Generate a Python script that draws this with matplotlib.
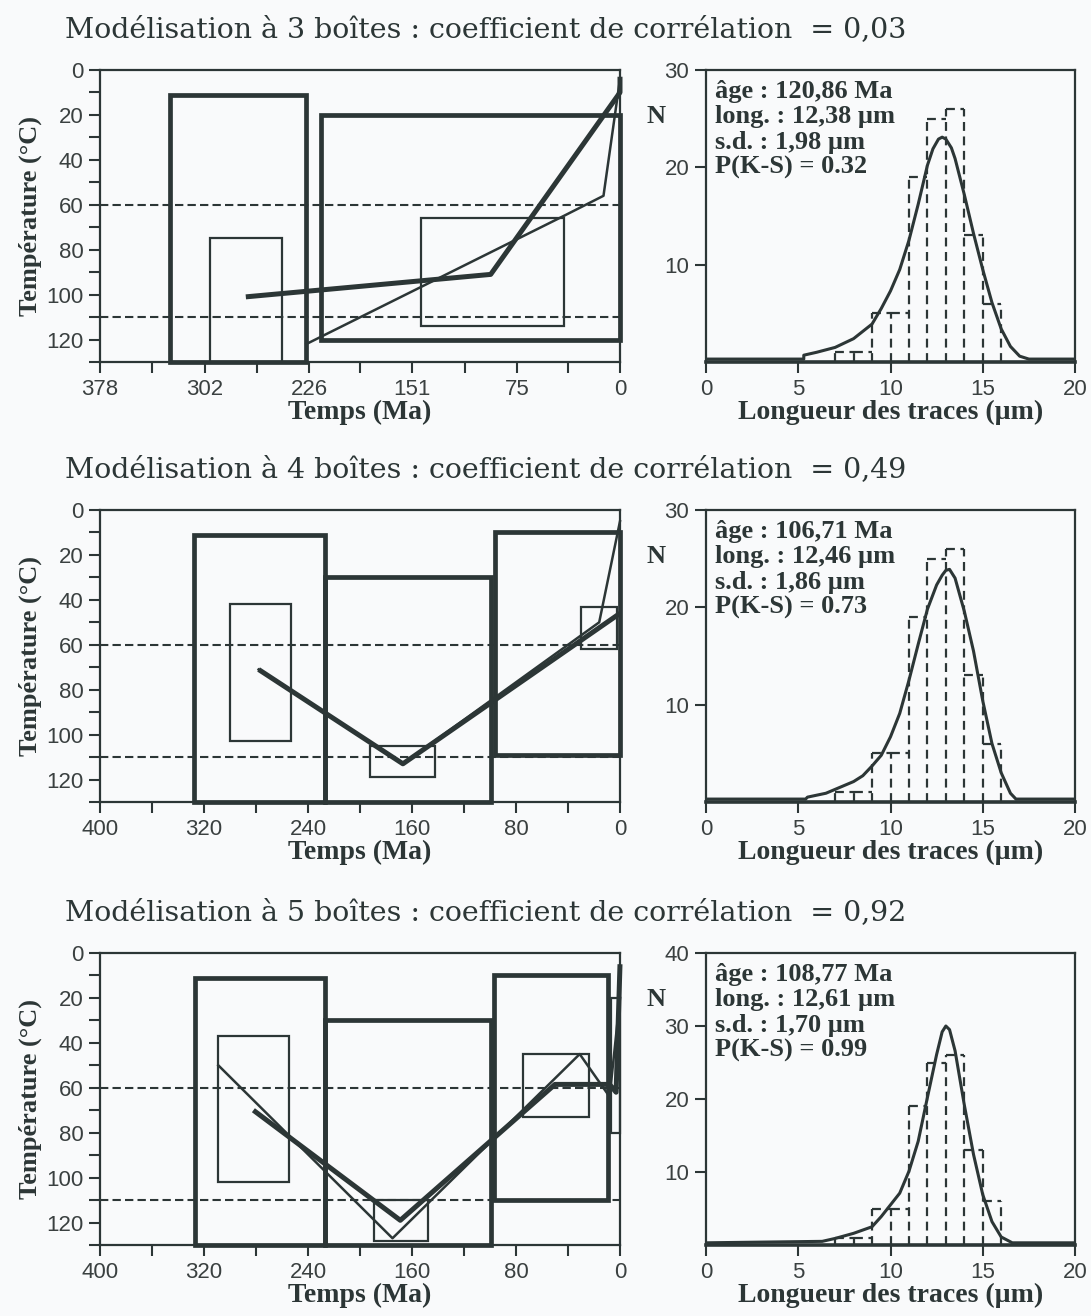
import numpy as np
import matplotlib.pyplot as plt
from matplotlib.patches import Rectangle

plt.rcParams['font.family'] = ['Liberation Serif', 'DejaVu Serif']

INK = '#2c3636'
BG = '#f9fafb'

# =========================
# Données
# =========================
titles = [
    "Modélisation à 3 boîtes : coefficient de corrélation  = 0,03",
    "Modélisation à 4 boîtes : coefficient de corrélation  = 0,49",
    "Modélisation à 5 boîtes : coefficient de corrélation  = 0,92",
]

# axe des temps (Ma)
t_max = [378, 400, 400]
t_ticks = [
    [378, 340, 302, 264, 226, 189, 151, 113, 75, 38, 0],
    [400, 360, 320, 280, 240, 200, 160, 120, 80, 40, 0],
    [400, 360, 320, 280, 240, 200, 160, 120, 80, 40, 0],
]
t_labels = [
    ['378', '', '302', '', '226', '', '151', '', '75', '', '0'],
    ['400', '', '320', '', '240', '', '160', '', '80', '', '0'],
    ['400', '', '320', '', '240', '', '160', '', '80', '', '0'],
]
T_ticks = [0, 10, 20, 30, 40, 50, 60, 70, 80, 90, 100, 110, 120, 130]
T_labels = ['0', '', '20', '', '40', '', '60', '', '80', '', '100', '', '120', '']
T_isothermes = [60, 110]

# boîtes : (temps début, temps fin, T haut, T bas)
thick_boxes = [
    [(327, 228, 11, 130), (217, 0, 20, 120)],
    [(328, 227, 11, 130), (227, 99, 30, 130), (96, 0, 10, 109)],
    [(327, 227, 11, 130), (227, 99, 30, 130), (97, 9, 10, 110)],
]
thin_boxes = [
    [(298, 246, 75, 130), (145, 41, 66, 114)],
    [(300, 253, 42, 103), (192, 142, 105, 119), (30, 2, 43, 62)],
    [(309, 255, 37, 102), (189, 148, 110, 128), (75, 24, 45, 73), (7, 0, 20, 80)],
]

# chemins temps-température
thick_path_t = [
    [272, 94, 0, 0],
    [278, 167, 0],
    [282, 169, 50, 8, 3, 0],
]
thick_path_T = [
    [101, 91, 10, 3],
    [71, 113, 46],
    [70, 119, 58.5, 58.5, 62, 5],
]
thin_path_t = [
    [228, 41, 12, 0],
    [278, 167, 16, 0],
    [309, 175, 31, 8, 0],
]
thin_path_T = [
    [122, 65, 56, 4],
    [71, 113, 50, 5],
    [50, 127, 45, 64, 20],
]

# histogramme des longueurs de traces
bin_left = [7, 8, 9, 10, 11, 12, 13, 14, 15]
counts = [1, 1, 5, 5, 19, 25, 26, 13, 6]

# courbes modélisées
curve_x = [
    [0, 5.3, 5.3, 6, 7, 8, 9, 9.5, 10, 10.5, 11, 11.5, 12, 12.3, 12.6, 12.8, 13,
     13.3, 13.5, 14, 14.5, 15, 15.5, 16, 16.5, 17, 17.5, 20],
    [0, 5.4, 5.5, 6.5, 7, 8, 8.5, 9, 9.5, 10, 10.5, 11, 11.5, 12, 12.5, 12.8, 13,
     13.2, 13.5, 14, 14.5, 15, 15.5, 16, 16.5, 16.8, 20],
    [0, 6.3, 7, 8, 9, 9.5, 10, 10.5, 11, 11.5, 12, 12.5, 12.8, 13, 13.2, 13.5, 14,
     14.5, 15, 15.5, 16, 16.6, 20],
]
curve_y = [
    [0.3, 0.3, 0.7, 1.0, 1.5, 2.4, 3.9, 5.5, 7.3, 9.5, 12.5, 16.2, 20.2, 21.9, 22.9,
     23.1, 22.9, 22.0, 20.9, 17.2, 13.2, 9.5, 6.1, 3.4, 1.6, 0.6, 0.3, 0.3],
    [0.3, 0.3, 0.5, 0.9, 1.3, 2.1, 2.7, 3.7, 4.8, 6.7, 9.1, 12.5, 16.2, 19.8, 22.3,
     23.3, 23.8, 23.9, 23.0, 19.6, 15.5, 10.4, 6.0, 3.0, 0.9, 0.3, 0.3],
    [0.3, 0.5, 0.9, 1.6, 2.5, 3.9, 5.5, 7.1, 10.1, 14.2, 20.2, 26.1, 29.2, 30.0,
     29.5, 26.6, 19.2, 12.4, 6.9, 3.2, 1.1, 0.3, 0.3],
]
N_max = [30, 30, 40]
N_ticks = [[10, 20, 30], [10, 20, 30], [10, 20, 30, 40]]
L_ticks = [0, 5, 10, 15, 20]

stats = [
    "âge : 120,86 Ma\nlong. : 12,38 µm\ns.d. : 1,98 µm\nP(K-S) = 0.32",
    "âge : 106,71 Ma\nlong. : 12,46 µm\ns.d. : 1,86 µm\nP(K-S) = 0.73",
    "âge : 108,77 Ma\nlong. : 12,61 µm\ns.d. : 1,70 µm\nP(K-S) = 0.99",
]

# =========================
# Figure
# =========================
W, H = 1091, 1316
fig = plt.figure(figsize=(W / 100, H / 100), dpi=100, facecolor=BG)

row_top = [70, 510, 953]
ax_h = 292
DASH = (0, (4, 2.5))


def px_axes(x0, x1, top):
    return fig.add_axes([x0 / W, 1 - (top + ax_h) / H, (x1 - x0) / W, ax_h / H])


def style(ax):
    ax.set_facecolor(BG)
    for s in ax.spines.values():
        s.set_linewidth(1.6)
        s.set_color(INK)
    ax.tick_params(direction='out', length=8, width=1.5, color=INK,
                   labelsize=16, labelcolor='#3a4040', pad=4)
    for lab in ax.get_xticklabels() + ax.get_yticklabels():
        lab.set_fontfamily('Liberation Sans')


for r in range(3):
    top = row_top[r]
    fig.text(65 / W, 1 - (top - 40) / H, titles[r], fontsize=20.5,
             family='DejaVu Serif', color=INK, ha='left', va='center')

    # ---- histoire thermique
    ax = px_axes(100, 620, top)
    ax.set_xlim(t_max[r], 0)
    ax.set_ylim(130, 0)
    ax.set_xticks(t_ticks[r], t_labels[r])
    ax.set_yticks(T_ticks, T_labels)
    style(ax)

    for T in T_isothermes:
        ax.axhline(T, color=INK, lw=1.5, ls=(0, (4, 2)), zorder=1)

    for (t0, t1, Ttop, Tbot) in thin_boxes[r]:
        ax.add_patch(Rectangle((t0, Ttop), t1 - t0, Tbot - Ttop, fill=False,
                               ec=INK, lw=1.6, clip_on=False, zorder=2))
    for (t0, t1, Ttop, Tbot) in thick_boxes[r]:
        ax.add_patch(Rectangle((t0, Ttop), t1 - t0, Tbot - Ttop, fill=False,
                               ec=INK, lw=3.4, clip_on=False, zorder=3))

    ax.plot(thin_path_t[r], thin_path_T[r], color=INK, lw=1.8, zorder=4,
            clip_on=False)
    ax.plot(thick_path_t[r], thick_path_T[r], color=INK, lw=3.6, zorder=4,
            clip_on=False, solid_capstyle='butt')

    ax.set_xlabel("Temps (Ma)", fontsize=20, fontweight='bold', color=INK)
    ax.xaxis.set_label_coords(0.5, -0.13)
    ax.set_ylabel("Température (°C)", fontsize=19, fontweight='bold', color=INK)
    ax.yaxis.set_label_coords(-0.112, 0.5)

    # ---- histogramme
    hx = px_axes(706, 1075, top)
    hx.set_xlim(0, 20)
    hx.set_ylim(0, N_max[r])
    hx.set_xticks(L_ticks)
    hx.set_yticks(N_ticks[r])
    style(hx)
    hx.spines['bottom'].set_linewidth(2.6)

    # contour en tirets des classes
    edges = bin_left + [bin_left[-1] + 1]
    edge_h = [max(counts[i - 1] if i > 0 else 0, counts[i] if i < len(counts) else 0)
              for i in range(len(edges))]
    hx.vlines(edges, 0, edge_h, colors=INK, lw=1.6, linestyles=DASH, zorder=2)
    hx.hlines(counts, bin_left, [b + 1 for b in bin_left], colors=INK, lw=1.6,
              linestyles=DASH, zorder=2)
    hx.plot(curve_x[r], curve_y[r], color=INK, lw=2.2, zorder=3)

    hx.text(0.025, 0.965, stats[r], transform=hx.transAxes, ha='left',
            va='top', fontsize=19, fontweight='bold', color=INK,
            linespacing=1.12)
    hx.text(-0.135, 0.84, "N", transform=hx.transAxes, ha='center',
            va='center', fontsize=19, fontweight='bold', color=INK)
    hx.set_xlabel("Longueur des traces (µm)", fontsize=20, fontweight='bold',
                  color=INK)
    hx.xaxis.set_label_coords(0.5, -0.13)

fig.savefig("out.png", dpi=100, facecolor=BG)
